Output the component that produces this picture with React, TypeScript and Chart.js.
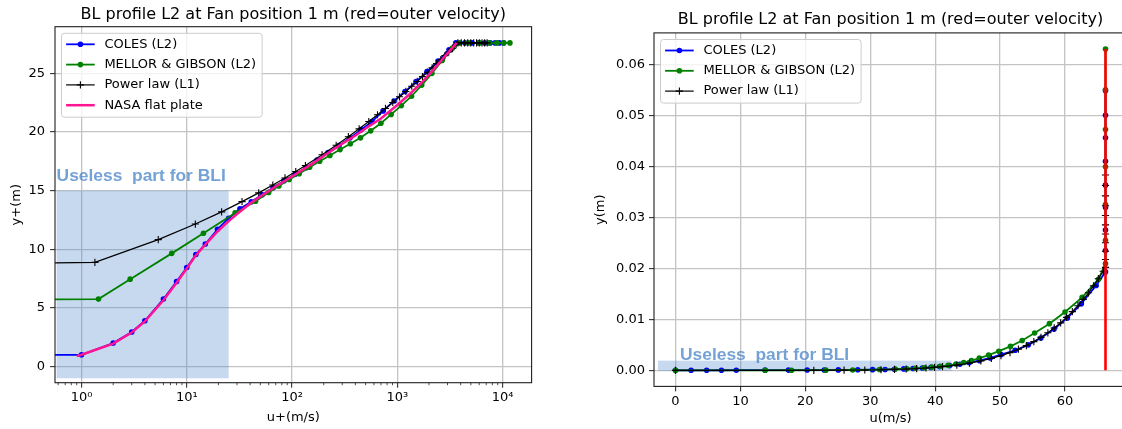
import React, { useEffect, useRef } from "react";
import { Chart, registerables } from "chart.js";

Chart.register(...registerables);

// ---------------- texts ----------------
const chartTitle = "BL profile L2 at Fan position 1 m (red=outer velocity)";
const noteText = "Useless  part for BLI";

// ---------------- left panel : y+ (log axis) vs u+ ----------------
// first entry 1e-100 stands for the wall point (0) that a log axis cannot show
const colesYPlus = [1e-100, 1, 2, 3, 4, 6, 8, 10, 12.2, 15, 19.6, 25, 32, 41, 52, 66, 84, 107, 136, 173, 220, 280, 356, 453, 576, 733, 932, 1185, 1507, 1917, 2438, 3101, 3600, 4383, 5129, 5949, 6770, 7646, 8504, 9325, 10220];
const colesUPlus = [0, 1.0, 2.0, 2.95, 3.9, 5.75, 7.25, 8.45, 9.55, 10.45, 11.7, 12.65, 13.45, 14.05, 14.65, 15.25, 15.85, 16.4, 16.95, 17.6, 18.25, 18.85, 19.5, 20.2, 20.9, 21.8, 22.65, 23.45, 24.3, 25.15, 26.05, 27.0, 27.6, 27.6, 27.6, 27.6, 27.6, 27.6, 27.6, 27.6, 27.6];

const mgYPlus = [1e-100, 1.45, 2.9, 7.2, 14.4, 28.8, 45, 60, 75, 94, 117, 147, 183, 229, 286, 358, 447, 559, 699, 874, 1092, 1365, 1707, 2133, 2667, 3333, 3900, 4756, 6061, 7441, 8803, 10257, 11749];
const mgUPlus = [0, 5.75, 7.45, 9.65, 11.37, 13.1, 14.1, 14.85, 15.4, 15.95, 16.45, 17.0, 17.5, 18.0, 18.5, 19.0, 19.5, 20.1, 20.75, 21.5, 22.25, 23.05, 24.0, 25.0, 26.1, 27.15, 27.6, 27.6, 27.6, 27.6, 27.6, 27.6, 27.6];

const plYPlus = [1e-100, 1.34, 5.36, 12.06, 21.44, 33.5, 48.24, 65.66, 85.76, 108.5, 134, 193, 262.6, 343, 434.2, 536, 648.6, 771.8, 905.8, 1050.6, 1206, 1372, 1549, 1736.6, 1935, 2144, 2363.8, 2594, 2835.4, 3087, 3350, 3623, 3764, 4053.5, 4353.7, 4664.5, 4986.1, 5318.5, 5661.5, 6015.3, 6379.7, 6754.9, 7140.9];
const plUPlus = [0, 8.88, 10.82, 12.15, 13.19, 14.06, 14.81, 15.48, 16.08, 16.63, 17.14, 18.06, 18.87, 19.6, 20.27, 20.89, 21.47, 22.01, 22.52, 23.0, 23.46, 23.9, 24.31, 24.72, 25.1, 25.47, 25.83, 26.17, 26.51, 26.83, 27.14, 27.45, 27.6, 27.6, 27.6, 27.6, 27.6, 27.6, 27.6, 27.6, 27.6, 27.6, 27.6];

const nasaYPlus = [0.9, 1, 2, 3, 4, 6, 8, 10, 12, 15, 20, 25, 30, 40, 50, 70, 100, 150, 200, 300, 400, 500, 700, 1000, 1300, 1700, 2200, 2800, 3670];
const nasaUPlus = [0.9, 1.0, 1.95, 2.9, 3.85, 5.65, 7.15, 8.35, 9.4, 10.4, 11.6, 12.4, 13.0, 13.9, 14.5, 15.35, 16.2, 17.2, 17.95, 19.0, 19.7, 20.3, 21.15, 22.3, 23.2, 24.2, 25.3, 26.4, 27.6];

const leftXTicks = [1, 10, 100, 1000, 10000];
const leftXTickLabels = ["10\u2070", "10\u00B9", "10\u00B2", "10\u00B3", "10\u2074"];
const leftYTicks = [0, 5, 10, 15, 20, 25];

// ---------------- right panel : u vs y ----------------
const colesU = [0, 2.4, 4.8, 7.08, 9.36, 13.8, 17.4, 20.28, 22.92, 25.08, 28.08, 30.36, 32.28, 33.72, 35.16, 36.6, 38.04, 39.36, 40.68, 42.24, 43.8, 45.24, 46.8, 48.48, 50.16, 52.32, 54.36, 56.28, 58.32, 60.36, 62.52, 64.8, 66.24, 66.24, 66.24, 66.24, 66.24, 66.24, 66.24, 66.24, 66.24];
const colesY = [0, 0.0000054, 0.0000107, 0.0000161, 0.0000214, 0.0000322, 0.0000429, 0.0000536, 0.0000654, 0.0000804, 0.000105, 0.000134, 0.000172, 0.00022, 0.000279, 0.000354, 0.00045, 0.000574, 0.000729, 0.000928, 0.00118, 0.0015, 0.00191, 0.00243, 0.00309, 0.00393, 0.005, 0.00635, 0.00808, 0.01028, 0.01307, 0.01663, 0.0193, 0.0235, 0.0275, 0.0319, 0.0363, 0.041, 0.0456, 0.05, 0.0548];

const mgU = [0, 13.8, 17.88, 23.16, 27.29, 31.44, 33.84, 35.64, 36.96, 38.28, 39.48, 40.8, 42.0, 43.2, 44.4, 45.6, 46.8, 48.24, 49.8, 51.6, 53.4, 55.32, 57.6, 60.0, 62.64, 65.16, 66.24, 66.24, 66.24, 66.24, 66.24, 66.24, 66.24];
const mgY = [0, 0.0000078, 0.0000155, 0.0000386, 0.0000772, 0.000154, 0.000241, 0.000322, 0.000402, 0.000504, 0.000627, 0.000788, 0.000981, 0.00123, 0.00153, 0.00192, 0.0024, 0.003, 0.00375, 0.00469, 0.00586, 0.00732, 0.00915, 0.01144, 0.0143, 0.01787, 0.02091, 0.0255, 0.0325, 0.0399, 0.0472, 0.055, 0.063];

const plU = [0, 21.31, 25.97, 29.16, 31.66, 33.74, 35.54, 37.15, 38.59, 39.91, 41.14, 43.34, 45.29, 47.04, 48.65, 50.14, 51.53, 52.82, 54.05, 55.2, 56.3, 57.36, 58.34, 59.33, 60.24, 61.13, 61.99, 62.81, 63.62, 64.39, 65.14, 65.88, 66.24, 66.24, 66.24, 66.24, 66.24, 66.24, 66.24, 66.24, 66.24, 66.24, 66.24];
const plY = [0, 0.0000072, 0.0000287, 0.0000647, 0.000115, 0.00018, 0.000259, 0.000352, 0.00046, 0.000582, 0.000719, 0.00103, 0.00141, 0.00184, 0.00233, 0.00287, 0.00348, 0.00414, 0.00486, 0.00563, 0.00647, 0.00736, 0.00831, 0.00931, 0.01038, 0.0115, 0.01267, 0.01391, 0.0152, 0.01655, 0.01796, 0.01943, 0.02018, 0.02173, 0.02334, 0.02501, 0.02674, 0.02852, 0.03036, 0.03225, 0.03421, 0.03622, 0.03829];

const outerU = [66.24, 66.24];
const outerY = [0, 0.063];

const rightXTicks = [0, 10, 20, 30, 40, 50, 60];
const rightYTicks = [0, 0.01, 0.02, 0.03, 0.04, 0.05, 0.06];

// ---------------- annotation regions (data coordinates) ----------------
const leftBand = { x0: 0.58, x1: 25, y0: -1, y1: 15 };
const leftNotePos = { x: 0.58, y: 15.85 };
const rightBand = { x0: -2.7, x1: 42.5, y0: -0.0001, y1: 0.0019 };
const rightNotePos = { x: 0.7, y: 0.0021 };

// ---------------- styling ----------------
const FONT = '"DejaVu Sans", "Liberation Sans", sans-serif';
const NOTE_FONT = 'bold 17.4px "Liberation Sans", Arial, sans-serif';
const GRID = "#c4c4c4";
const INK = "#1e1e1e";
const BAND_COLOR = "rgba(70,130,200,0.3)";
const NOTE_COLOR = "rgba(70,130,200,0.75)";

type Pt = { x: number; y: number };
const zip = (xs: number[], ys: number[]): Pt[] => xs.map((x, i) => ({ x, y: ys[i] }));

function series(label: string, data: Pt[], color: string, width: number, style: any, radius: number, order: number) {
  return {
    label,
    data,
    borderColor: color,
    backgroundColor: color,
    borderWidth: width,
    pointStyle: style,
    pointRadius: radius,
    pointHoverRadius: radius,
    pointBackgroundColor: color,
    pointBorderColor: color,
    pointBorderWidth: style === "cross" ? 1.1 : 0,
    tension: 0,
    fill: false,
    order,
  };
}

const decor = {
  id: "decor",
  beforeDatasetsDraw(chart: any, _a: any, o: any) {
    const { ctx, chartArea: a, scales } = chart;
    const b = o.band;
    if (!b) return;
    const x0 = scales.x.getPixelForValue(b.x0);
    const x1 = scales.x.getPixelForValue(b.x1);
    const y0 = scales.y.getPixelForValue(b.y0);
    const y1 = scales.y.getPixelForValue(b.y1);
    ctx.save();
    ctx.beginPath();
    ctx.rect(a.left, a.top, a.right - a.left, a.bottom - a.top);
    ctx.clip();
    ctx.fillStyle = BAND_COLOR;
    ctx.fillRect(Math.min(x0, x1), Math.min(y0, y1), Math.abs(x1 - x0), Math.abs(y1 - y0));
    ctx.restore();
  },
  afterDatasetsDraw(chart: any, _a: any, o: any) {
    const { ctx, chartArea: a, scales } = chart;
    ctx.save();
    if (o.note) {
      ctx.font = NOTE_FONT;
      ctx.fillStyle = NOTE_COLOR;
      ctx.textAlign = "left";
      ctx.textBaseline = "alphabetic";
      ctx.fillText(noteText, scales.x.getPixelForValue(o.note.x), scales.y.getPixelForValue(o.note.y));
    }
    // frame
    ctx.strokeStyle = INK;
    ctx.lineWidth = 1.1;
    ctx.strokeRect(a.left, a.top, a.right - a.left, a.bottom - a.top);
    // minor ticks on log axis
    if (o.logMinor) {
      ctx.lineWidth = 0.8;
      ctx.beginPath();
      for (let e = -1; e <= 4; e++) {
        for (let m = 2; m <= 9; m++) {
          const v = m * Math.pow(10, e);
          const px = scales.x.getPixelForValue(v);
          if (px < a.left || px > a.right) continue;
          ctx.moveTo(px, a.bottom);
          ctx.lineTo(px, a.bottom + 2.5);
        }
      }
      ctx.stroke();
    }
    // legend
    const items = chart.data.datasets.filter((d: any) => !String(d.label).startsWith("_"));
    ctx.font = `13px ${FONT}`;
    const maxW = Math.max(...items.map((d: any) => ctx.measureText(d.label).width));
    const bx = a.left + 6.5;
    const by = a.top + 6.6;
    const bw = 42.9 + maxW + 6;
    const bh = 23 + (items.length - 1) * 20.3;
    ctx.beginPath();
    ctx.roundRect(bx, by, bw, bh, 3);
    ctx.fillStyle = "rgba(255,255,255,0.8)";
    ctx.fill();
    ctx.strokeStyle = "#cccccc";
    ctx.lineWidth = 1;
    ctx.stroke();
    items.forEach((d: any, i: number) => {
      const cy = by + 11 + i * 20.3;
      ctx.strokeStyle = d.borderColor;
      ctx.lineWidth = d.borderWidth;
      ctx.beginPath();
      ctx.moveTo(bx + 4.6, cy);
      ctx.lineTo(bx + 33.2, cy);
      ctx.stroke();
      const mx = bx + 18.9;
      if (d.pointRadius > 0) {
        if (d.pointStyle === "cross") {
          const r = d.pointRadius;
          ctx.strokeStyle = d.pointBorderColor;
          ctx.lineWidth = 1.1;
          ctx.beginPath();
          ctx.moveTo(mx - r, cy);
          ctx.lineTo(mx + r, cy);
          ctx.moveTo(mx, cy - r);
          ctx.lineTo(mx, cy + r);
          ctx.stroke();
        } else {
          ctx.fillStyle = d.pointBackgroundColor;
          ctx.beginPath();
          ctx.arc(mx, cy, d.pointRadius, 0, Math.PI * 2);
          ctx.fill();
        }
      }
      ctx.fillStyle = "#000";
      ctx.textAlign = "left";
      ctx.textBaseline = "middle";
      ctx.fillText(d.label, bx + 42.9, cy);
    });
    ctx.restore();
  },
};

const tickFont = { family: FONT, size: 13 };
const gridOpts = { color: GRID, lineWidth: 1.3, drawTicks: true, tickLength: 5, tickColor: INK, tickWidth: 1 };

function baseOptions(titlePad: { top: number; bottom: number }, padRight: number) {
  return {
    responsive: false,
    animation: false as const,
    devicePixelRatio: 1,
    events: [] as any[],
    layout: { padding: { left: 0, right: padRight, top: 0, bottom: 0 } },
    plugins: {
      legend: { display: false },
      tooltip: { enabled: false },
      title: {
        display: true,
        text: chartTitle,
        color: "#000",
        font: { family: FONT, size: 16, weight: "normal" as const },
        padding: titlePad,
        fullSize: false,
      },
    },
  };
}

export default function App() {
  const leftRef = useRef<HTMLCanvasElement | null>(null);
  const rightRef = useRef<HTMLCanvasElement | null>(null);

  useEffect(() => {
    const leftBase = baseOptions({ top: 5.4, bottom: 2.1 }, 29.4);
    const left = new Chart(leftRef.current as HTMLCanvasElement, {
      type: "line",
      data: {
        datasets: [
          series("COLES (L2)", zip(colesYPlus, colesUPlus), "#0000ff", 1.8, "circle", 2.8, 4),
          series("MELLOR & GIBSON (L2)", zip(mgYPlus, mgUPlus), "#008000", 1.8, "circle", 2.8, 3),
          series("Power law (L1)", zip(plYPlus, plUPlus), "#000000", 1.2, "cross", 3.6, 2),
          series("NASA flat plate", zip(nasaYPlus, nasaUPlus), "#ff1493", 2.5, false, 0, 1),
        ] as any,
      },
      options: {
        ...leftBase,
        plugins: {
          ...leftBase.plugins,
          decor: { band: leftBand, note: leftNotePos, logMinor: true },
        } as any,
        scales: {
          x: {
            type: "logarithmic",
            min: 0.56,
            max: 18880,
            afterBuildTicks: (s: any) => {
              s.ticks = leftXTicks.map((v) => ({ value: v }));
            },
            afterFit: (s: any) => {
              s.height = 46.3;
            },
            ticks: {
              callback: (v: any) => {
                const i = leftXTicks.indexOf(Number(v));
                return i >= 0 ? leftXTickLabels[i] : "";
              },
              font: tickFont,
              color: "#000",
              padding: 2,
              autoSkip: false,
              maxRotation: 0,
            },
            grid: gridOpts,
            border: { display: false },
            title: { display: true, text: "u+(m/s)", color: "#000", font: tickFont, padding: { top: 0, bottom: 3.2 } },
          },
          y: {
            type: "linear",
            min: -1.38,
            max: 28.98,
            afterBuildTicks: (s: any) => {
              s.ticks = leftYTicks.map((v) => ({ value: v }));
            },
            afterFit: (s: any) => {
              s.width = 55;
            },
            ticks: { callback: (v: any) => String(v), font: tickFont, color: "#000", padding: 5, autoSkip: false },
            grid: gridOpts,
            border: { display: false },
            title: { display: true, text: "y+(m)", color: "#000", font: tickFont, padding: { top: 9.2, bottom: 0 } },
          },
        } as any,
      },
      plugins: [decor],
    });

    const rightBase = baseOptions({ top: 10.4, bottom: 3.3 }, 14);
    const right = new Chart(rightRef.current as HTMLCanvasElement, {
      type: "line",
      data: {
        datasets: [
          series("COLES (L2)", zip(colesU, colesY), "#0000ff", 1.8, "circle", 2.8, 4),
          series("MELLOR & GIBSON (L2)", zip(mgU, mgY), "#008000", 1.8, "circle", 2.8, 3),
          series("Power law (L1)", zip(plU, plY), "#000000", 1.2, "cross", 3.6, 2),
          series("_outer", zip(outerU, outerY), "#ff0000", 2.6, false, 0, 1),
        ] as any,
      },
      options: {
        ...rightBase,
        plugins: {
          ...rightBase.plugins,
          decor: { band: rightBand, note: rightNotePos, logMinor: false },
        } as any,
        scales: {
          x: {
            type: "linear",
            min: -3.312,
            max: 69.552,
            afterBuildTicks: (s: any) => {
              s.ticks = rightXTicks.map((v) => ({ value: v }));
            },
            afterFit: (s: any) => {
              s.height = 42.6;
            },
            ticks: { callback: (v: any) => String(v), font: tickFont, color: "#000", padding: 2, autoSkip: false, maxRotation: 0 },
            grid: gridOpts,
            border: { display: false },
            title: { display: true, text: "u(m/s)", color: "#000", font: tickFont, padding: { top: 0, bottom: 2.2 } },
          },
          y: {
            type: "linear",
            min: -0.00315,
            max: 0.06615,
            afterBuildTicks: (s: any) => {
              s.ticks = rightYTicks.map((v) => ({ value: v }));
            },
            afterFit: (s: any) => {
              s.width = 93;
            },
            ticks: { callback: (v: any) => Number(v).toFixed(2), font: tickFont, color: "#000", padding: 4, autoSkip: false },
            grid: gridOpts,
            border: { display: false },
            title: { display: true, text: "y(m)", color: "#000", font: tickFont, padding: { top: 32.2, bottom: 0 } },
          },
        } as any,
      },
      plugins: [decor],
    });

    return () => {
      left.destroy();
      right.destroy();
    };
  }, []);

  return (
    <div style={{ position: "absolute", left: 0, top: 0, width: 1122, height: 429, overflow: "hidden", background: "#fff" }}>
      <canvas ref={leftRef} width={561} height={429} style={{ position: "absolute", left: 0, top: 0 }} />
      <canvas ref={rightRef} width={580} height={429} style={{ position: "absolute", left: 561, top: 0 }} />
    </div>
  );
}
